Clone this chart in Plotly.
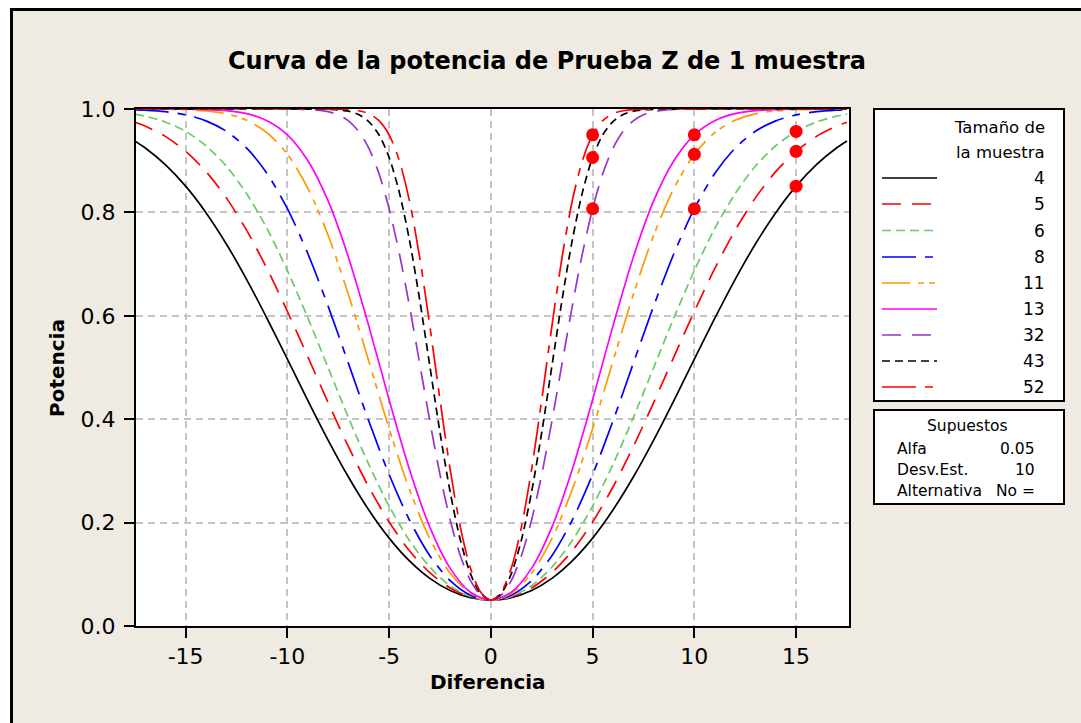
import plotly.graph_objects as go

# ---------------- data ----------------
X_WIDE = [-17.5, -17, -16, -15, -14, -13, -12, -11, -10, -9, -8, -7, -6, -5, -4, -3, -2, -1,
          0, 1, 2, 3, 4, 5, 6, 7, 8, 9, 10, 11, 12, 13, 14, 15, 16, 17, 17.5]
X_FINE = [-17.5, -15, -12.5, -10, -9.5, -9, -8.5, -8, -7.5, -7, -6.5, -6, -5.5, -5, -4.5, -4,
          -3.5, -3, -2.5, -2, -1.5, -1, -0.5, 0, 0.5, 1, 1.5, 2, 2.5, 3, 3.5, 4, 4.5, 5, 5.5,
          6, 6.5, 7, 7.5, 8, 8.5, 9, 9.5, 10, 12.5, 15, 17.5]

N4 = [0.9382, 0.9251, 0.8925, 0.8508, 0.7995, 0.7389, 0.6700, 0.5948, 0.5160, 0.4365, 0.3596,
      0.2881, 0.2244, 0.1700, 0.1259, 0.0921, 0.0685, 0.0546, 0.0500, 0.0546, 0.0685, 0.0921,
      0.1259, 0.1700, 0.2244, 0.2881, 0.3596, 0.4365, 0.5160, 0.5948, 0.6700, 0.7389, 0.7995,
      0.8508, 0.8925, 0.9251, 0.9382]
N5 = [0.9745, 0.9672, 0.9470, 0.9181, 0.8789, 0.8281, 0.7651, 0.6911, 0.6086, 0.5210, 0.4322,
      0.3469, 0.2689, 0.2011, 0.1455, 0.1031, 0.0735, 0.0560, 0.0500, 0.0560, 0.0735, 0.1031,
      0.1455, 0.2011, 0.2689, 0.3469, 0.4322, 0.5210, 0.6086, 0.6911, 0.7651, 0.8281, 0.8789,
      0.9181, 0.9470, 0.9672, 0.9745]
N6 = [0.9900, 0.9862, 0.9749, 0.9566, 0.9289, 0.8894, 0.8360, 0.7686, 0.6875, 0.5965, 0.4999,
      0.4032, 0.3125, 0.2320, 0.1653, 0.1140, 0.0779, 0.0572, 0.0500, 0.0572, 0.0779, 0.1140,
      0.1653, 0.2320, 0.3125, 0.4032, 0.4999, 0.5965, 0.6875, 0.7686, 0.8360, 0.8894, 0.9289,
      0.9566, 0.9749, 0.9862, 0.9900]
N8 = [0.9985, 0.9977, 0.9949, 0.9887, 0.9771, 0.9569, 0.9242, 0.8751, 0.8071, 0.7207, 0.6188,
      0.5080, 0.3964, 0.2931, 0.2049, 0.1360, 0.0876, 0.0594, 0.0500, 0.0594, 0.0876, 0.1360,
      0.2049, 0.2931, 0.3964, 0.5080, 0.6188, 0.7207, 0.8071, 0.8751, 0.9242, 0.9569, 0.9771,
      0.9887, 0.9949, 0.9977, 0.9985]
N11 = [0.9999, 0.9999, 0.9994, 0.9987, 0.9963, 0.9907, 0.9782, 0.9541, 0.9124, 0.8471, 0.7557,
       0.6411, 0.5120, 0.3817, 0.2640, 0.1688, 0.1020, 0.0630, 0.0500, 0.0630, 0.1020, 0.1688,
       0.2640, 0.3817, 0.5120, 0.6411, 0.7557, 0.8471, 0.9124, 0.9541, 0.9782, 0.9907, 0.9963,
       0.9987, 0.9994, 0.9999, 0.9999]
N13 = [1.0000, 1.0000, 0.9999, 0.9996, 0.9989, 0.9967, 0.9910, 0.9774, 0.9500, 0.9003, 0.8222,
       0.7134, 0.5805, 0.4376, 0.3029, 0.1912, 0.1115, 0.0653, 0.0500, 0.0653, 0.1115, 0.1912,
       0.3029, 0.4376, 0.5805, 0.7134, 0.8222, 0.9003, 0.9500, 0.9774, 0.9910, 0.9967, 0.9989,
       0.9996, 0.9999, 1.0000, 1.0000]
N32 = [1.0, 1.0, 1.0, 0.9999, 0.9996, 0.9990, 0.9977, 0.9949, 0.9887, 0.9771, 0.9569, 0.9242,
       0.8751, 0.8071, 0.7207, 0.6188, 0.5080, 0.3964, 0.2931, 0.2049, 0.1360, 0.0876, 0.0594,
       0.0500, 0.0594, 0.0876, 0.1360, 0.2049, 0.2931, 0.3964, 0.5080, 0.6188, 0.7207, 0.8071,
       0.8751, 0.9242, 0.9569, 0.9771, 0.9887, 0.9949, 0.9977, 0.9990, 0.9996, 0.9999, 1.0, 1.0, 1.0]
N43 = [1.0, 1.0, 1.0, 1.0, 1.0, 0.9999, 0.9998, 0.9994, 0.9984, 0.9958, 0.9893, 0.9757, 0.9501,
       0.9062, 0.8388, 0.7461, 0.6312, 0.5029, 0.3745, 0.2590, 0.1662, 0.1008, 0.0627, 0.0500,
       0.0627, 0.1008, 0.1662, 0.2590, 0.3745, 0.5029, 0.6312, 0.7461, 0.8388, 0.9062, 0.9501,
       0.9757, 0.9893, 0.9958, 0.9984, 0.9994, 0.9998, 0.9999, 1.0, 1.0, 1.0, 1.0, 1.0]
N52 = [1.0, 1.0, 1.0, 1.0, 1.0, 1.0, 1.0, 0.9999, 0.9996, 0.9989, 0.9967, 0.9910, 0.9774, 0.9500,
       0.9003, 0.8222, 0.7134, 0.5805, 0.4376, 0.3029, 0.1912, 0.1115, 0.0653, 0.0500, 0.0653,
       0.1115, 0.1912, 0.3029, 0.4376, 0.5805, 0.7134, 0.8222, 0.9003, 0.9500, 0.9774, 0.9910,
       0.9967, 0.9989, 0.9996, 0.9999, 1.0, 1.0, 1.0, 1.0, 1.0, 1.0, 1.0]

SAMPLE_SIZES = ["4", "5", "6", "8", "11", "13", "32", "43", "52"]
SERIES = [N4, N5, N6, N8, N11, N13, N32, N43, N52]
SERIES_X = [X_WIDE] * 6 + [X_FINE] * 3

# target points (difference, power)
PT_X = [5, 5, 5, 10, 10, 10, 15, 15, 15]
PT_Y = [0.9500, 0.9062, 0.8071, 0.9500, 0.9124, 0.8071, 0.9566, 0.9181, 0.8508]

X_TICKS = [-15, -10, -5, 0, 5, 10, 15]
Y_TICKS = [0.0, 0.2, 0.4, 0.6, 0.8, 1.0]

TITLE = "Curva de la potencia de Prueba Z de 1 muestra"
X_TITLE = "Diferencia"
Y_TITLE = "Potencia"
LEGEND_HEADER = ["Tamaño de", "la muestra"]
ASSUMPTIONS_TITLE = "Supuestos"
ASSUMPTIONS = [("Alfa", "0.05"), ("Desv.Est.", "10"), ("Alternativa", "No =")]

# ---------------- styles ----------------
COLORS = ["#000000", "#FF0000", "#66CC66", "#0000FF", "#FF9900", "#FF00FF", "#9933CC",
          "#000000", "#FF0000"]
DASHES = ["solid", "19px,11px", "9px,5px", "34px,9px,8px,9px", "28px,8px,6px,5px,6px,8px",
          "solid", "19px,11px", "8px,5px", "34px,9px,8px,9px"]

W, H = 1081, 723
L, R, T, B = 136, 849, 109, 626
BG = "#EFEBE2"
FONT = "DejaVu Sans"


def px(x):
    return (x - L) / (R - L)


def py(y):
    return (B - y) / (B - T)


fig = go.Figure()
for xs, ys, c, d, n in zip(SERIES_X, SERIES, COLORS, DASHES, SAMPLE_SIZES):
    fig.add_trace(go.Scatter(x=xs, y=ys, mode="lines", name=n,
                             line=dict(color=c, dash=d, width=1.7, shape="spline", smoothing=0.8),
                             hoverinfo="skip"))
fig.add_trace(go.Scatter(x=PT_X, y=PT_Y, mode="markers", marker=dict(color="#FF0000", size=13),
                         cliponaxis=False, hoverinfo="skip"))

shapes = []
# outer white strips and black frame
shapes.append(dict(type="rect", xref="paper", yref="paper", x0=px(0), x1=px(W), y0=py(0), y1=py(8),
                   fillcolor="white", line=dict(width=0), layer="below"))
shapes.append(dict(type="rect", xref="paper", yref="paper", x0=px(0), x1=px(10), y0=py(0), y1=py(H),
                   fillcolor="white", line=dict(width=0), layer="below"))
shapes.append(dict(type="line", xref="paper", yref="paper", x0=px(10), x1=px(W + 5), y0=py(9.5), y1=py(9.5),
                   line=dict(color="black", width=3)))
shapes.append(dict(type="line", xref="paper", yref="paper", x0=px(11.5), x1=px(11.5), y0=py(8), y1=py(H + 5),
                   line=dict(color="black", width=3)))

# legend box
shapes.append(dict(type="rect", xref="paper", yref="paper", x0=px(874), x1=px(1064), y0=py(109), y1=py(401),
                   fillcolor="white", line=dict(color="black", width=2), layer="below"))
shapes.append(dict(type="rect", xref="paper", yref="paper", x0=px(874), x1=px(1064), y0=py(410), y1=py(504),
                   fillcolor="white", line=dict(color="black", width=2), layer="below"))

annotations = []
ROW_Y = [178, 204, 230.5, 257, 283, 309, 335, 361, 387]
for yy, c, d, n in zip(ROW_Y, COLORS, DASHES, SAMPLE_SIZES):
    shapes.append(dict(type="line", xref="paper", yref="paper", x0=px(882), x1=px(937), y0=py(yy), y1=py(yy),
                       line=dict(color=c, dash=d, width=1.7)))
    annotations.append(dict(text=n, xref="paper", yref="paper", x=px(1047), y=py(yy), xanchor="right",
                            yanchor="middle", showarrow=False, font=dict(family=FONT, size=17, color="black")))
for txt, yy in zip(LEGEND_HEADER, [127, 152]):
    annotations.append(dict(text=txt, xref="paper", yref="paper", x=px(1047), y=py(yy), xanchor="right",
                            yanchor="middle", showarrow=False, font=dict(family=FONT, size=16.5, color="black")))

annotations.append(dict(text=ASSUMPTIONS_TITLE, xref="paper", yref="paper", x=px(967), y=py(426),
                        xanchor="center", yanchor="middle", showarrow=False,
                        font=dict(family=FONT, size=15.5, color="black")))
for (lab, val), yy in zip(ASSUMPTIONS, [449, 469.5, 490.5]):
    annotations.append(dict(text=lab, xref="paper", yref="paper", x=px(895), y=py(yy), xanchor="left",
                            yanchor="middle", showarrow=False, font=dict(family=FONT, size=15.5, color="black")))
    annotations.append(dict(text=val, xref="paper", yref="paper", x=px(1037), y=py(yy), xanchor="right",
                            yanchor="middle", showarrow=False, font=dict(family=FONT, size=15.5, color="black")))

# titles
annotations.append(dict(text=TITLE, xref="paper", yref="paper", x=px(547), y=py(61.5), xanchor="center",
                        yanchor="middle", showarrow=False,
                        font=dict(family=FONT, size=24, color="black", weight="bold")))
annotations.append(dict(text=X_TITLE, xref="paper", yref="paper", x=px(488), y=py(681.5), xanchor="center",
                        yanchor="middle", showarrow=False,
                        font=dict(family=FONT, size=20, color="black", weight="bold")))
annotations.append(dict(text=Y_TITLE, xref="paper", yref="paper", x=px(57), y=py(368), xanchor="center",
                        yanchor="middle", showarrow=False, textangle=-90,
                        font=dict(family=FONT, size=20, color="black", weight="bold")))

axis_common = dict(showline=True, mirror=True, linecolor="black", linewidth=2,
                   ticks="outside", ticklen=10, tickwidth=2, tickcolor="black",
                   showgrid=True, gridcolor="#C4C4C4", gridwidth=1.5, griddash="7px,5px",
                   zeroline=False, tickfont=dict(family=FONT, size=22, color="black"),
                   automargin=False, fixedrange=True)

fig.update_layout(
    width=W, height=H,
    margin=dict(l=L, r=W - R, t=T, b=H - B, pad=0),
    paper_bgcolor=BG, plot_bgcolor="white",
    showlegend=False,
    shapes=shapes, annotations=annotations,
    xaxis=dict(range=[-17.44, 17.6], tickvals=X_TICKS, ticktext=[str(v) for v in X_TICKS],
               **axis_common),
    yaxis=dict(range=[0, 1], tickvals=Y_TICKS, ticktext=[f"{v:.1f}" for v in Y_TICKS],
               ticklabelstandoff=4, **axis_common),
)

fig.write_html("out.html")
